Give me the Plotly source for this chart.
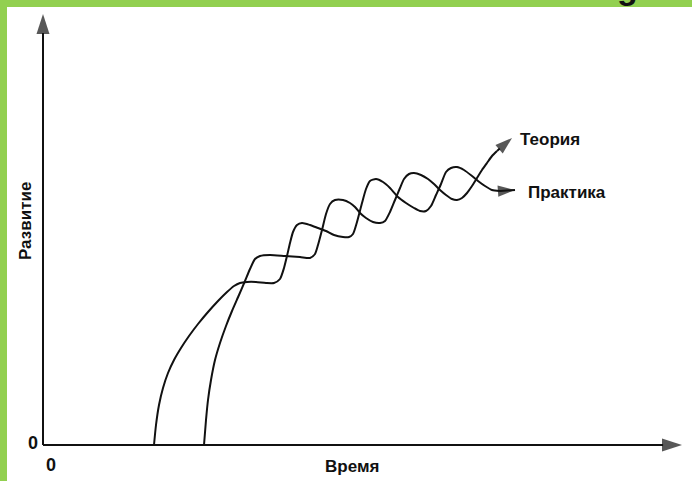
import plotly.graph_objects as go

# Curve "Практика" (time, development)
prak_t = [111, 113, 116, 120, 125, 131, 138, 146, 155, 165, 175, 184, 191, 197, 204, 213, 223, 231, 237, 241,
          244, 247, 250, 254, 259, 267, 275, 283, 291, 300, 306, 310, 314, 319, 323, 327, 333, 340, 347, 355,
          363, 371, 377, 383, 388, 393, 398, 403, 408, 414, 421, 429, 435, 442, 449, 457]
prak_d = [0, 20, 40, 57, 72, 85, 97, 109, 121, 133, 144, 153, 159, 162, 163, 163, 162, 162, 166, 177,
          189, 202, 213, 220, 222, 220, 217, 214, 210, 208, 208, 211, 223, 242, 256, 264, 266, 263, 257, 248,
          242, 237, 234, 234, 239, 250, 261, 273, 277, 278, 275, 269, 264, 259, 255, 254]
prak_tip = (472, 255)

# Curve "Теория"
teor_t = [161, 163, 165, 168, 172, 177, 183, 189, 196, 202, 207, 212, 217, 227, 242, 257, 267, 272, 275,
          279, 283, 287, 292, 300, 307, 312, 317, 323, 330, 337, 342, 347, 352, 357, 361, 366, 371, 378, 385,
          391, 397, 403, 409, 414, 419, 424, 429, 434, 439, 444, 449, 454]
teor_d = [0, 25, 45, 65, 85, 102, 119, 134, 150, 164, 176, 186, 189, 190, 189, 188, 187, 191, 200,
          215, 231, 241, 245, 245, 242, 238, 232, 227, 223, 222, 224, 233, 245, 257, 266, 271, 272, 270, 266,
          261, 255, 250, 246, 245, 247, 252, 259, 267, 275, 282, 289, 294]
teor_tip = (469, 307)

# Axes extents (arrow tips)
x_axis_end = 639
y_axis_end = 431

labels = {"Теория": (507, 306), "Практика": (524, 253), "Время": (309, -21), "Развитие": (-18, 224)}

GREEN = "#92D050"
INK = "#111111"
FONT = "Liberation Sans Narrow, Arial Narrow, Liberation Sans, sans-serif"

fig = go.Figure()

def arrow_line(xs, ys, size, width=2):
    fig.add_trace(go.Scatter(
        x=xs, y=ys, mode="lines+markers",
        line=dict(color=INK, width=width),
        marker=dict(symbol="arrow", angleref="previous", size=[0] * (len(xs) - 1) + [size],
                    color=INK, line=dict(width=0)),
        hoverinfo="skip", showlegend=False))

# axes
arrow_line([0, 0], [0, y_axis_end], 21)
arrow_line([0, x_axis_end], [0, 0], 21)

# curves
for t, d, tip in [(prak_t, prak_d, prak_tip), (teor_t, teor_d, teor_tip)]:
    fig.add_trace(go.Scatter(x=t, y=d, mode="lines", line=dict(color=INK, width=2, shape="spline", smoothing=0.6),
                             hoverinfo="skip", showlegend=False))
    arrow_line([t[-1], tip[0]], [d[-1], tip[1]], 18)

ann = []
for txt, (x, y) in labels.items():
    ann.append(dict(x=x, y=y, xref="x", yref="y", text=f"<b>{txt}</b>", showarrow=False,
                    font=dict(family=FONT, size=17, color=INK), xanchor="center", yanchor="middle",
                    textangle=-90 if txt == "Развитие" else 0))
ann.append(dict(x=-10, y=2, xref="x", yref="y", text="<b>0</b>", showarrow=False,
                font=dict(family=FONT, size=18, color=INK), xanchor="center", yanchor="middle"))
ann.append(dict(x=8, y=-20, xref="x", yref="y", text="<b>0</b>", showarrow=False,
                font=dict(family=FONT, size=18, color=INK), xanchor="center", yanchor="middle"))
# cut-off letter at the top edge
ann.append(dict(x=627 / 692, y=1 - 8 / 481, xref="paper", yref="paper", text="<b>g</b>", showarrow=False,
                font=dict(family="Liberation Sans, sans-serif", size=34, color=INK),
                xanchor="center", yanchor="bottom"))

shapes = [
    dict(type="rect", xref="paper", yref="paper", x0=0, x1=7 / 692, y0=0, y1=1,
         fillcolor=GREEN, line=dict(width=0), layer="below"),
    dict(type="rect", xref="paper", yref="paper", x0=0, x1=1, y0=1 - 7 / 481, y1=1,
         fillcolor=GREEN, line=dict(width=0), layer="below"),
]

fig.update_layout(
    width=692, height=481, margin=dict(l=0, r=0, t=0, b=0),
    paper_bgcolor="white", plot_bgcolor="white",
    xaxis=dict(range=[-43, 649], visible=False, fixedrange=True),
    yaxis=dict(range=[-36, 445], visible=False, fixedrange=True),
    annotations=ann, shapes=shapes, showlegend=False,
)

fig.write_html("out.html", config={"displayModeBar": False},
               post_script="document.body.style.margin='0';document.body.style.overflow='hidden';")
